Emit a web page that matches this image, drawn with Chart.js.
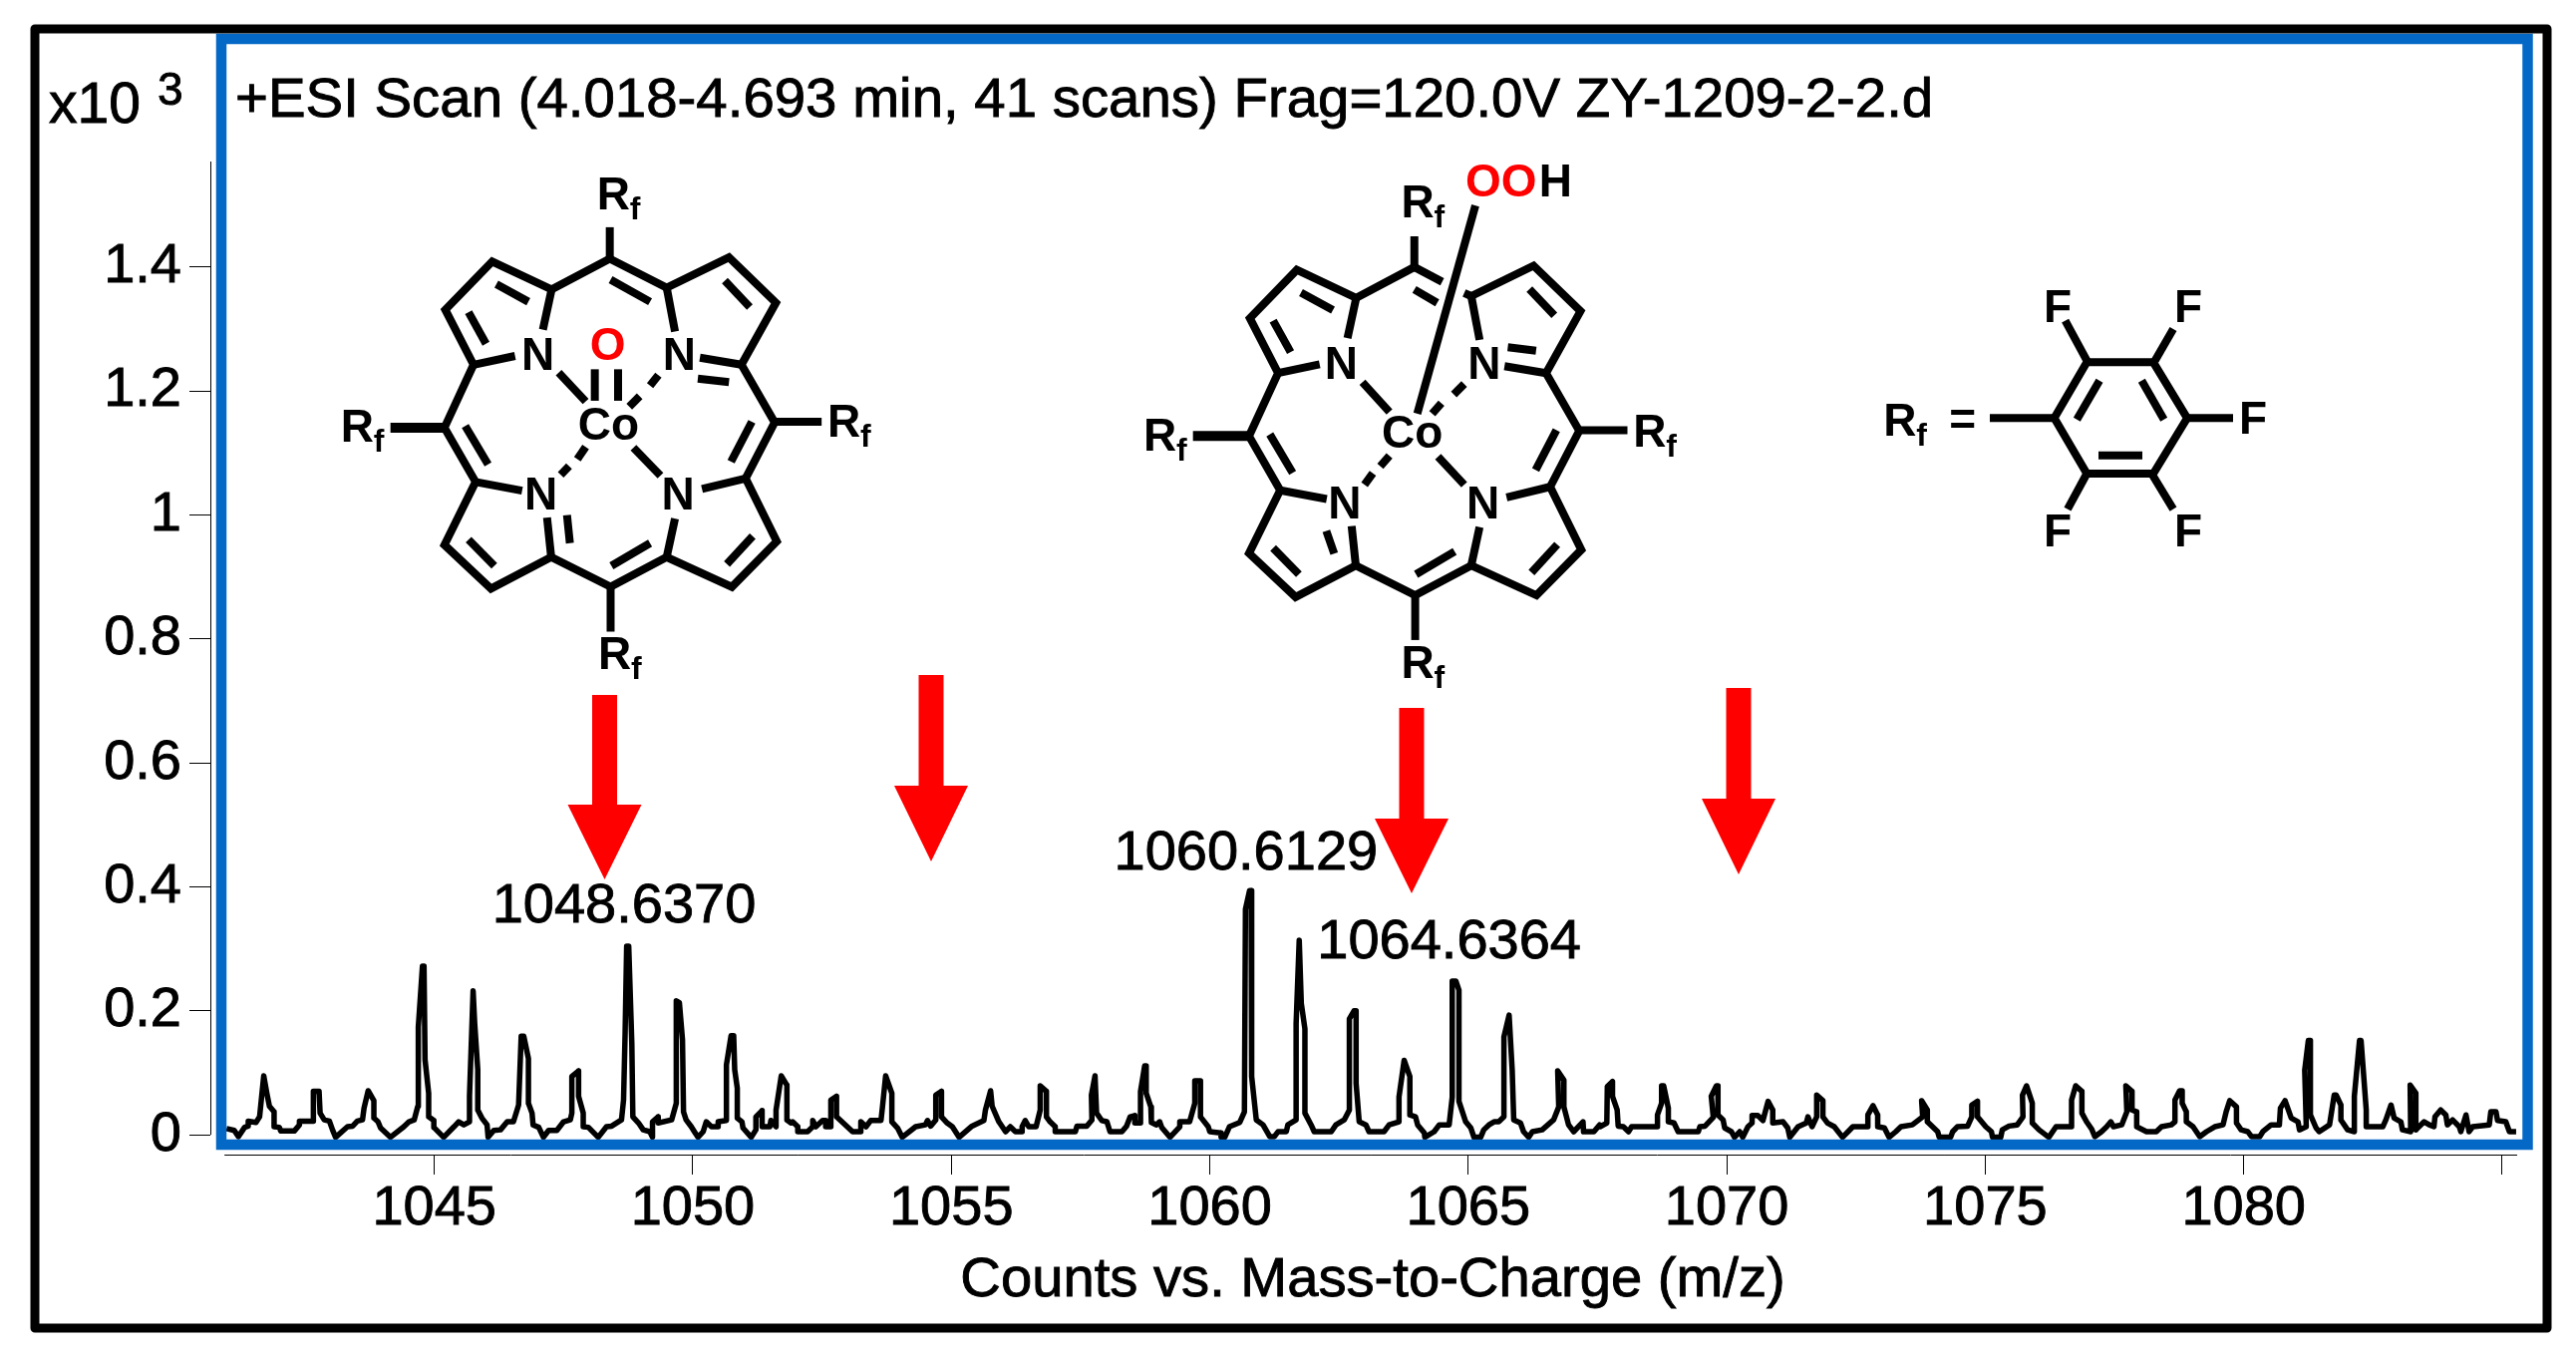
<!DOCTYPE html>
<html>
<head>
<meta charset="utf-8">
<title>ESI scan</title>
<script src="https://cdn.jsdelivr.net/npm/chart.js@4/dist/chart.umd.min.js"></script>
<style>
    html, body { margin: 0; padding: 0; background: #fff; }
    canvas { display: block; }
</style>
</head>
<body>
<canvas id="spectrum" width="2584" height="1362"></canvas>
<script>
// spectrum trace
const mzValues = [
    1040.98,1041.13,1041.21,1041.33,1041.40,1041.40,1041.55,1041.62,1041.70,1041.76,1041.81,1041.90,1041.90,1042.00,1042.03,1042.29,1042.39,1042.39,1042.66,1042.66,
    1042.77,1042.79,1042.87,1042.97,1043.03,1043.09,1043.32,1043.42,1043.51,1043.61,1043.64,1043.72,1043.83,1043.83,1043.91,1043.96,1044.15,1044.41,1044.51,1044.61,
    1044.68,1044.69,1044.77,1044.80,1044.82,1044.89,1044.89,1044.99,1044.99,1045.18,1045.38,1045.47,1045.57,1045.68,1045.68,1045.75,1045.78,1045.84,1045.84,1045.92,
    1046.02,1046.04,1046.15,1046.28,1046.41,1046.53,1046.63,1046.68,1046.73,1046.82,1046.82,1046.89,1046.91,1047.02,1047.11,1047.21,1047.37,1047.50,1047.63,1047.66,
    1047.66,1047.79,1047.79,1047.88,1047.88,1047.98,1048.17,1048.33,1048.43,1048.62,1048.66,1048.69,1048.72,1048.76,1048.82,1048.84,1048.95,1049.04,1049.17,1049.22,
    1049.22,1049.33,1049.33,1049.59,1049.68,1049.68,1049.74,1049.80,1049.82,1049.87,1049.97,1050.03,1050.10,1050.20,1050.26,1050.36,1050.49,1050.49,1050.65,1050.65,
    1050.74,1050.79,1050.81,1050.86,1050.86,1050.95,1050.97,1051.13,1051.22,1051.22,1051.34,1051.34,1051.49,1051.51,1051.61,1051.61,1051.71,1051.82,1051.82,1051.90,
    1051.93,1052.03,1052.03,1052.22,1052.32,1052.32,1052.38,1052.51,1052.57,1052.57,1052.67,1052.67,1052.78,1052.78,1053.09,1053.25,1053.25,1053.35,1053.44,1053.64,
    1053.67,1053.73,1053.85,1053.85,1053.96,1054.05,1054.31,1054.50,1054.54,1054.60,1054.70,1054.70,1054.81,1054.81,1054.92,1055.02,1055.15,1055.40,1055.63,1055.66,
    1055.76,1055.79,1055.92,1056.05,1056.14,1056.24,1056.37,1056.37,1056.43,1056.50,1056.64,1056.72,1056.72,1056.84,1056.84,1056.91,1057.01,1057.01,1057.40,1057.43,
    1057.62,1057.72,1057.71,1057.78,1057.81,1057.91,1058.01,1058.07,1058.30,1058.39,1058.46,1058.55,1058.55,1058.66,1058.66,1058.74,1058.77,1058.77,1058.86,1058.87,
    1058.97,1059.03,1059.07,1059.23,1059.42,1059.42,1059.61,1059.71,1059.71,1059.82,1059.82,1059.97,1060.00,1060.21,1060.22,1060.29,1060.38,1060.58,1060.67,1060.69,
    1060.77,1060.80,1060.81,1060.90,1061.03,1061.16,1061.25,1061.32,1061.48,1061.51,1061.67,1061.67,1061.73,1061.77,1061.84,1061.84,1061.96,1062.02,1062.35,1062.44,
    1062.60,1062.70,1062.70,1062.79,1062.83,1062.83,1062.89,1063.02,1063.08,1063.37,1063.47,1063.66,1063.66,1063.76,1063.87,1063.87,1063.98,1064.02,1064.15,1064.16,
    1064.34,1064.44,1064.63,1064.69,1064.69,1064.76,1064.82,1064.82,1064.95,1065.05,1065.11,1065.24,1065.30,1065.40,1065.50,1065.59,1065.69,1065.69,1065.79,1065.85,
    1065.88,1066.01,1066.07,1066.17,1066.24,1066.43,1066.65,1066.75,1066.73,1066.85,1066.85,1066.94,1067.04,1067.22,1067.23,1067.43,1067.54,1067.55,1067.68,1067.69,
    1067.79,1067.79,1067.88,1067.90,1068.00,1068.10,1068.16,1068.39,1068.66,1068.66,1068.74,1068.74,1068.78,1068.87,1068.87,1068.98,1069.06,1069.45,1069.48,1069.58,
    1069.74,1069.70,1069.80,1069.83,1069.83,1069.93,1069.96,1070.09,1070.15,1070.25,1070.31,1070.41,1070.49,1070.49,1070.60,1070.70,1070.80,1070.89,1070.89,1071.09,
    1071.18,1071.22,1071.38,1071.54,1071.57,1071.65,1071.74,1071.74,1071.86,1071.86,1071.95,1072.08,1072.24,1072.37,1072.44,1072.73,1072.73,1072.83,1072.92,1072.92,
    1073.05,1073.14,1073.27,1073.37,1073.59,1073.79,1073.77,1073.88,1073.88,1074.08,1074.11,1074.33,1074.37,1074.46,1074.66,1074.74,1074.74,1074.85,1074.85,1075.01,
    1075.12,1075.14,1075.30,1075.33,1075.46,1075.62,1075.73,1075.72,1075.80,1075.91,1075.91,1076.04,1076.23,1076.37,1076.51,1076.67,1076.67,1076.75,1076.87,1076.87,
    1076.96,1077.06,1077.12,1077.25,1077.35,1077.43,1077.48,1077.64,1077.74,1077.72,1077.84,1077.84,1077.93,1077.93,1078.12,1078.31,1078.41,1078.60,1078.67,1078.67,
    1078.76,1078.81,1078.81,1078.89,1078.89,1079.02,1079.15,1079.28,1079.44,1079.60,1079.66,1079.73,1079.86,1079.86,1079.95,1080.08,1080.15,1080.31,1080.37,1080.53,
    1080.69,1080.71,1080.80,1080.92,1081.05,1081.08,1081.21,1081.18,1081.25,1081.29,1081.29,1081.40,1081.46,1081.66,1081.75,1081.79,1081.88,1081.88,1082.01,1082.14,
    1082.14,1082.24,1082.27,1082.37,1082.37,1082.69,1082.75,1082.85,1082.91,1083.04,1083.07,1083.23,1083.22,1083.33,1083.33,1083.49,1083.59,1083.68,1083.70,1083.81,
    1083.91,1083.94,1084.04,1084.17,1084.20,1084.30,1084.36,1084.43,1084.75,1084.78,1084.88,1084.91,1085.07,1085.14,1085.27
];
const counts = [
    .010,.007,-.003,.012,.014,.022,.020,.029,.095,.067,.046,.037,.013,.012,.006,.006,.016,.022,.022,.070,
    .070,.035,.024,.022,.008,-.004,.013,.014,.022,.024,.043,.071,.055,.027,.021,.011,-.004,.013,.021,.024,
    .046,.174,.272,.272,.121,.067,.029,.023,.012,-.004,.013,.021,.016,.021,.062,.232,.180,.105,.040,.027,
    .016,-.004,.007,.008,.021,.021,.048,.159,.159,.123,.051,.035,.016,.012,-.004,.007,.007,.021,.024,.035,
    .094,.103,.062,.035,.013,.012,-.004,.013,.014,.024,.056,.163,.304,.304,.147,.029,.019,.008,.005,-.004,
    .021,.029,.019,.024,.051,.216,.213,.153,.037,.024,.013,.005,-.004,.005,.021,.013,.013,.021,.023,.113,
    .160,.160,.105,.075,.027,.021,.011,-.004,.008,.029,.039,.013,.013,.023,.013,.040,.095,.080,.024,.019,
    .021,.013,.005,.005,.013,.023,.013,.023,.023,.013,.013,.056,.062,.029,.005,.005,.021,.013,.023,.023,
    .046,.095,.067,.021,.011,-.004,.013,.016,.023,.014,.024,.064,.070,.029,.019,.013,-.004,.014,.023,.040,
    .071,.046,.021,.005,.013,.005,.005,.013,.023,.013,.013,.040,.079,.070,.029,.021,.013,.005,.005,.014,
    .014,.024,.064,.095,.035,.023,.021,.005,.005,.014,.029,.031,.019,.019,.070,.111,.111,.067,.045,.020,
    .016,.021,.012,-.004,.013,.021,.021,.051,.087,.087,.029,.013,.005,.003,-.004,-.004,.013,.020,.037,.364,
    .394,.394,.094,.024,.016,-.003,-.003,.005,.005,.016,.024,.179,.314,.212,.171,.035,.016,.005,.005,.016,
    .024,.040,.187,.200,.200,.083,.021,.016,.005,.005,.016,.021,.061,.120,.094,.032,.029,.016,.003,-.004,
    .005,.016,.016,.061,.248,.248,.233,.054,.021,.011,-.004,-.004,.008,.016,.021,.021,.029,.158,.193,.104,
    .024,.019,.005,-.004,.005,.008,.024,.045,.103,.088,.045,.016,.005,.021,.005,.005,.016,.013,.019,.078,
    .086,.062,.040,.014,.013,.005,.013,.013,.013,.032,.051,.079,.079,.043,.021,.019,.005,.005,.013,.014,
    .028,.062,.079,.079,.032,.024,.011,.005,-.004,.005,-.004,.013,.019,.031,.031,.023,.054,.040,.019,.021,
    .011,-.004,.013,.019,.029,.013,.029,.064,.055,.029,.019,.013,-.004,.007,.013,.013,.032,.047,.032,.013,
    .011,-.004,.005,.013,.016,.029,.055,.040,.021,.005,-.004,-.004,.005,.013,.014,.029,.048,.054,.029,.013,
    .005,-.004,-.004,.008,.014,.016,.029,.064,.079,.051,.019,.008,-.004,.013,.013,.013,.056,.079,.070,.035,
    .021,.009,-.003,.005,.013,.021,.013,.016,.037,.079,.070,.040,.037,.013,.005,.005,.013,.016,.021,.056,
    .071,.071,.051,.037,.021,.013,-.003,.005,.013,.016,.037,.055,.045,.019,.008,.005,-.003,-.003,.005,.016,
    .016,.043,.055,.027,.021,.008,.013,.104,.152,.152,.032,.011,.005,.016,.064,.064,.048,.024,.008,.005,
    .062,.152,.152,.040,.013,.013,.024,.048,.027,.021,.008,.005,.080,.067,.008,.021,.016,.013,.029,.040,
    .032,.016,.024,.013,.005,.032,.005,.013,.016,.037,.037,.023,.021,.005,.005
];
const xTicks = [1045, 1050, 1055, 1060, 1065, 1070, 1075, 1080, 1085];
const xTickLabels = ['1045', '1050', '1055', '1060', '1065', '1070', '1075', '1080', ''];
const yTicks = [0, 0.2, 0.4, 0.6, 0.8, 1, 1.2, 1.4];
const yTickLabels = ['0', '0.2', '0.4', '0.6', '0.8', '1', '1.2', '1.4'];
const peakLabelText = ['1048.6370', '1060.6129', '1064.6364'];
const peakLabelMz = [1048.67, 1060.70, 1064.63];
const peakLabelCount = [0.342, 0.4286, 0.285];
const scanTitle = '+ESI Scan (4.018-4.693 min, 41 scans) Frag=120.0V ZY-1209-2-2.d';
const xAxisTitle = 'Counts vs. Mass-to-Charge (m/z)';

const FONT = '"Liberation Sans", Arial, sans-serif';
const BLUE = '#0468c6';
const RED = '#ff0000';
const TEXT_WEIGHT = 0.9;

// porphyrin skeleton, in the crop coordinates it was traced from
const ringPath = [[748,312],[885,395],[1035,308],[1148,438],[1065,615],[1145,780],[1075,940],[1150,1120],[1042,1250],[885,1165],[750,1250],[607,1165],[462,1255],[350,1130],[425,950],[350,795],[420,615],[352,458],[465,320],[608,400]];

var line = (ctx, x1, y1, x2, y2, w) => {
    ctx.lineWidth = w || 8;
    ctx.beginPath();
    ctx.moveTo(x1, y1);
    ctx.lineTo(x2, y2);
    ctx.stroke();
};

var label = (ctx, txt, x, y, size, color, align) => {
    ctx.font = `bold ${size}px ${FONT}`;
    ctx.fillStyle = color || '#000';
    ctx.textAlign = align || 'left';
    ctx.fillText(txt, x, y);
};

// regular text, thickened a little like the reference glyphs
var plainText = (ctx, txt, x, y, size, align) => {
    ctx.font = `${size}px ${FONT}`;
    ctx.textAlign = align || 'left';
    ctx.fillStyle = '#000';
    ctx.strokeStyle = '#000';
    ctx.lineWidth = TEXT_WEIGHT;
    ctx.strokeText(txt, x, y);
    ctx.fillText(txt, x, y);
};

// R with a subscript f
var rf = (ctx, x, y) => {
    label(ctx, 'R', x, y, 46);
    label(ctx, 'f', x + 33, y + 10, 32);
};

var drawFirstMolecule = ctx => {
    const px = x => 300 + x / 2.4;
    const py = y => 150 + y / 2.85;
    const seg = (a, b, c, d, w) => line(ctx, px(a), py(b), px(c), py(d), w);

    ctx.lineWidth = 8;
    ctx.beginPath();
    ringPath.forEach((p, i) => i ? ctx.lineTo(px(p[0]), py(p[1])) : ctx.moveTo(px(p[0]), py(p[1])));
    ctx.closePath();
    ctx.stroke();

    //bonds into the nitrogens
    [[885,395,905,520],[1065,615,965,595],[1075,940,970,970],[885,1165,905,1055],[607,1165,597,1052],[425,950,537,975],[420,615,520,590],[608,400,587,515]]
        .forEach(b => seg(...b));
    //inner double bonds
    [[750,372,845,435],[1025,375,1085,450],[960,655,1035,665],[1090,778,1040,892],[1092,1105,1030,1185],[845,1125,752,1190],[645,1045,652,1125],[408,1115,470,1190],[455,900,400,790],[450,555,408,465],[475,385,552,435]]
        .forEach(b => seg(...b));
    //Rf arms
    seg(748, 222, 748, 312);
    seg(220, 795, 350, 795, 10);
    seg(1145, 778, 1258, 778);
    seg(750, 1250, 750, 1378);
    //cobalt bonds
    [[625,638,690,720],[712,628,712,718],[768,628,768,718],[865,645,845,675],[820,705,795,735],[690,850,670,885],[650,905,630,930],[805,852,870,932]]
        .forEach(b => seg(...b));

    label(ctx, 'N', px(575), py(630), 46, '#000', 'center');
    label(ctx, 'N', px(915), py(630), 46, '#000', 'center');
    label(ctx, 'N', px(582), py(1030), 46, '#000', 'center');
    label(ctx, 'N', px(912), py(1030), 46, '#000', 'center');
    label(ctx, 'O', px(743), py(600), 46, RED, 'center');
    label(ctx, 'Co', px(745), py(830), 46, '#000', 'center');
    rf(ctx, px(717), py(170));
    rf(ctx, px(100), py(835));
    rf(ctx, px(1272), py(822));
    rf(ctx, px(720), py(1485));
};

var drawSecondMolecule = ctx => {
    const px = x => 1100 + x / 2.4;
    const py = y => 150 + y / 2.85;
    const seg = (a, b, c, d, w) => line(ctx, px(a), py(b), px(c), py(d), w);
    const dx = 17, dy = 24;

    //same skeleton as the first one, shifted, open where the OOH bond crosses it
    ctx.lineWidth = 8;
    ctx.beginPath();
    ringPath.slice(1).concat([ringPath[0]]).forEach((p, i) => i ? ctx.lineTo(px(p[0] + dx), py(p[1] + dy)) : ctx.moveTo(px(p[0] + dx), py(p[1] + dy)));
    ctx.stroke();
    seg(765, 336, 832, 378);
    seg(885, 410, 902, 419);

    [[902,419,922,544],[1082,639,982,619],[1092,964,987,994],[902,1189,922,1079],[624,1189,614,1076],[442,974,554,999],[437,639,537,614],[625,424,604,539]]
        .forEach(b => seg(...b));
    [[765,400,820,438],[1042,399,1102,474],[990,565,1058,575],[1107,802,1057,916],[1109,1129,1047,1209],[862,1149,769,1214],[553,1090,572,1155],[425,1139,487,1214],[472,924,417,814],[467,579,425,489],[492,409,569,459]]
        .forEach(b => seg(...b));
    seg(765, 248, 765, 336);
    seg(232, 819, 367, 819, 10);
    seg(1162, 802, 1278, 802);
    seg(767, 1274, 767, 1402);
    //OOH bond and cobalt bonds
    seg(912, 160, 772, 755);
    [[640,665,705,750],[885,670,860,700],[830,725,808,755],[705,875,683,905],[665,925,645,958],[822,878,885,958]]
        .forEach(b => seg(...b));

    label(ctx, 'N', px(589), py(655), 46, '#000', 'center');
    label(ctx, 'N', px(933), py(655), 46, '#000', 'center');
    label(ctx, 'N', px(597), py(1055), 46, '#000', 'center');
    label(ctx, 'N', px(930), py(1055), 46, '#000', 'center');
    label(ctx, 'Co', px(760), py(853), 46, '#000', 'center');
    label(ctx, 'OO', px(888), py(135), 46, RED);
    label(ctx, 'H', px(1065), py(135), 46);
    rf(ctx, px(733), py(195));
    rf(ctx, px(113), py(860));
    rf(ctx, px(1292), py(848));
    rf(ctx, px(733), py(1510));
};

var drawRfGroup = ctx => {
    const px = x => 1850 + x / 3;
    const py = y => 270 + y / 3;
    const seg = (a, b, c, d) => line(ctx, px(a), py(b), px(c), py(d));
    const ring = [[632,448],[730,280],[930,280],[1032,448],[930,615],[730,615]];

    ctx.lineWidth = 8;
    ctx.beginPath();
    ring.forEach((p, i) => i ? ctx.lineTo(px(p[0]), py(p[1])) : ctx.moveTo(px(p[0]), py(p[1])));
    ctx.closePath();
    ctx.stroke();

    [[665,155,730,275],[990,180,935,275],[1032,448,1170,448],[730,615,672,722],[925,615,990,722],[438,448,632,448],[768,335,700,452],[895,335,962,452],[765,560,897,560]]
        .forEach(b => seg(...b));

    rf(ctx, px(118), py(500));
    label(ctx, '=', px(316), py(497), 46);
    label(ctx, 'F', px(600), py(158), 46);
    label(ctx, 'F', px(993), py(158), 46);
    label(ctx, 'F', px(1188), py(495), 46);
    label(ctx, 'F', px(600), py(835), 46);
    label(ctx, 'F', px(993), py(835), 46);
};

var drawArrow = (ctx, cx, top, base, tip) => {
    ctx.fillStyle = RED;
    ctx.beginPath();
    ctx.moveTo(cx - 12.5, top);
    ctx.lineTo(cx + 12.5, top);
    ctx.lineTo(cx + 12.5, base);
    ctx.lineTo(cx + 37, base);
    ctx.lineTo(cx, tip);
    ctx.lineTo(cx - 37, base);
    ctx.lineTo(cx - 12.5, base);
    ctx.closePath();
    ctx.fill();
};

// axis lines, frames, arrows, structures and all free text go on top of the trace
const figureExtras = {
    id: 'figureExtras',
    afterDraw(chart) {
        const ctx = chart.ctx;
        const xScale = chart.scales.x;
        const yScale = chart.scales.y;
        ctx.save();
        ctx.strokeStyle = '#000';
        ctx.lineCap = 'butt';
        ctx.lineJoin = 'miter';

        //y axis stops at zero, x axis starts right of the blue frame
        line(ctx, yScale.right + 0.5, yScale.getPixelForValue(yScale.max), yScale.right + 0.5, yScale.getPixelForValue(0), 1);
        line(ctx, xScale.getPixelForValue(1040.94), xScale.top + 0.5, xScale.right, xScale.top + 0.5, 1);

        //blue frame
        ctx.strokeStyle = BLUE;
        ctx.lineWidth = 10.5;
        ctx.strokeRect(222, 39, 2313.5, 1109);

        //black frame
        ctx.strokeStyle = '#000';
        ctx.lineWidth = 9;
        ctx.lineJoin = 'round';
        ctx.strokeRect(35, 29, 2520, 1303);
        ctx.lineJoin = 'miter';

        drawArrow(ctx, 606.5, 697, 807, 882);
        drawArrow(ctx, 934, 677, 788, 864);
        drawArrow(ctx, 1416, 710, 821, 896);
        drawArrow(ctx, 1744, 690, 801, 877);

        ctx.textBaseline = 'alphabetic';
        drawFirstMolecule(ctx);
        drawSecondMolecule(ctx);
        drawRfGroup(ctx);

        plainText(ctx, scanTitle, 236, 117, 56.4);
        plainText(ctx, 'x10', 49, 123, 57);
        plainText(ctx, '3', 158, 105, 46);
        plainText(ctx, xAxisTitle, 1377, 1300, 56.2, 'center');
        peakLabelText.forEach((txt, i) => {
            plainText(ctx, txt, xScale.getPixelForValue(peakLabelMz[i]), yScale.getPixelForValue(peakLabelCount[i]), 56, 'center');
        });
        ctx.restore();
    }
};

const spectrumChart = new Chart(document.getElementById('spectrum'), {
    type: 'line',
    data: {
        datasets: [{
            label: 'Counts',
            data: mzValues.map((mz, i) => ({ x: mz, y: counts[i] })),
            borderColor: '#000',
            borderWidth: 5.5,
            borderJoinStyle: 'round',
            pointRadius: 0,
            tension: 0,
            fill: false
        }]
    },
    options: {
        responsive: false,
        animation: false,
        maintainAspectRatio: false,
        layout: { padding: { top: 162, right: 59, left: 0, bottom: 0 } },
        plugins: {
            legend: { display: false },
            tooltip: { enabled: false },
            title: { display: false }
        },
        scales: {
            x: {
                type: 'linear',
                min: 1040.667,
                max: 1085.29,
                afterFit: axis => { axis.height = 204; },
                afterBuildTicks: axis => { axis.ticks = xTicks.map(v => ({ value: v })); },
                border: { display: false },
                grid: { drawOnChartArea: false, drawTicks: true, tickLength: 20, tickColor: '#000', tickWidth: 1 },
                ticks: {
                    autoSkip: false,
                    maxRotation: 0,
                    color: '#000',
                    padding: 1,
                    textStrokeColor: '#000',
                    textStrokeWidth: TEXT_WEIGHT,
                    font: { family: FONT, size: 56 },
                    callback: (value, index) => xTickLabels[index]
                }
            },
            y: {
                type: 'linear',
                min: -0.032,
                max: 1.57,
                afterFit: axis => { axis.width = 211; },
                afterBuildTicks: axis => { axis.ticks = yTicks.map(v => ({ value: v })); },
                border: { display: false },
                grid: { drawOnChartArea: false, drawTicks: true, tickLength: 21, tickColor: '#000', tickWidth: 1 },
                ticks: {
                    autoSkip: false,
                    color: '#000',
                    padding: 8,
                    textStrokeColor: '#000',
                    textStrokeWidth: TEXT_WEIGHT,
                    font: { family: FONT, size: 56 },
                    callback: (value, index) => yTickLabels[index]
                }
            }
        }
    },
    plugins: [figureExtras]
});
</script>
</body>
</html>
